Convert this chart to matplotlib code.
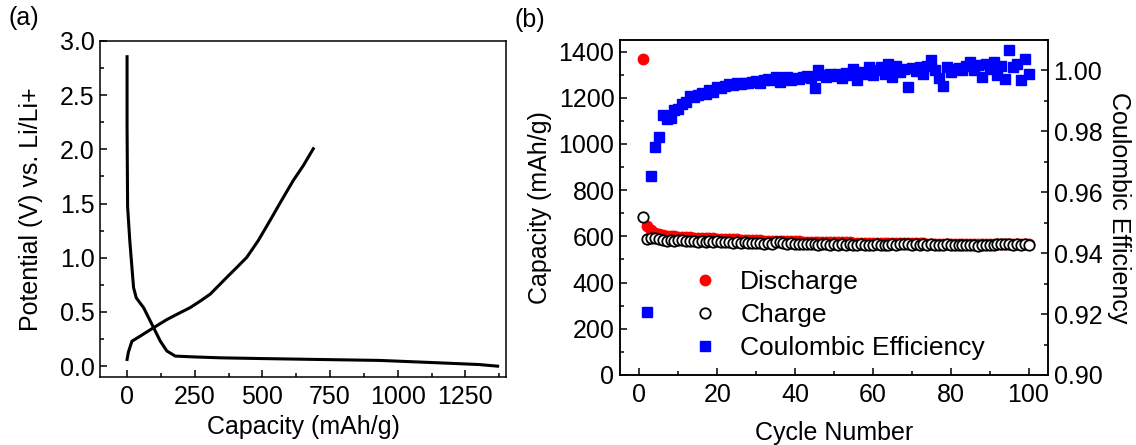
import matplotlib
matplotlib.use("Agg")
import matplotlib.pyplot as plt
from matplotlib.ticker import MultipleLocator
from matplotlib.lines import Line2D

plt.rcParams['font.family'] = ['Liberation Sans', 'DejaVu Sans']

# (a) first discharge / charge profile
dis_cap = [0, 0, 2, 10, 18, 24, 34, 61, 98, 123, 147, 178, 250, 344, 500, 700, 933, 1150, 1300, 1369]
dis_volt = [2.855, 2.21, 1.47, 1.16, 0.91, 0.725, 0.63, 0.54, 0.355, 0.23, 0.14, 0.093, 0.085,
            0.077, 0.07, 0.062, 0.053, 0.031, 0.015, 0.0]
chg_cap = [0, 5, 12, 18, 49, 98, 147, 184, 233, 270, 307, 368, 405, 442, 485, 528, 571, 614, 651, 688]
chg_volt = [0.062, 0.13, 0.185, 0.23, 0.278, 0.355, 0.43, 0.478, 0.54, 0.60, 0.664, 0.818, 0.91,
            1.003, 1.16, 1.343, 1.53, 1.713, 1.85, 2.006]

# (b) cycling
cycles = list(range(1, 101))
discharge = [1367,
             647, 628, 615, 610, 606, 603, 601, 600, 599,
             598, 597, 596, 595, 594, 593, 592, 592, 591, 590,
             589, 589, 588, 587, 587, 586, 585, 585, 584, 583,
             583, 582, 582, 581, 581, 580, 580, 579, 579, 578,
             578, 577, 577, 577, 576, 576, 576, 575, 575, 575,
             574, 574, 574, 574, 573, 573, 573, 573, 572, 572,
             572, 572, 572, 571, 571, 571, 571, 571, 570, 570,
             570, 570, 570, 569, 569, 569, 569, 569, 568, 568,
             568, 568, 568, 568, 567, 567, 567, 567, 567, 566,
             566, 566, 566, 566, 566, 565, 565, 565, 565, 565]
charge = [686,
          590, 594, 592, 590, 586, 580, 584, 582, 585,
          583, 580, 578, 581, 577, 579, 575, 578, 576, 579,
          577, 574, 576, 573, 575, 572, 574, 571, 573, 570,
          572, 569, 571, 566, 574, 575, 570, 568, 571, 567,
          569, 566, 568, 565, 567, 564, 566, 565, 563, 566,
          564, 565, 563, 566, 564, 562, 565, 563, 564, 562,
          565, 563, 564, 562, 566, 564, 567, 568, 566, 564,
          565, 563, 566, 564, 565, 563, 564, 562, 565, 561,
          563, 562, 564, 561, 563, 562, 560, 563, 561, 564,
          562, 566, 568, 565, 567, 562, 565, 563, 566, 561]
ce_cycles = list(range(2, 101))
ce = [0.9207, 0.9655, 0.9750, 0.9780, 0.9855, 0.9840, 0.9845, 0.9870, 0.9872,
      0.9890, 0.9895, 0.9915, 0.9912, 0.9920, 0.9925, 0.9922, 0.9935, 0.9930, 0.9945,
      0.9942, 0.9950, 0.9955, 0.9952, 0.9958, 0.9955, 0.9960, 0.9958, 0.9962, 0.9965,
      0.9960, 0.9968, 0.9972, 0.9970, 0.9978, 0.9962, 0.9975, 0.9980, 0.9968, 0.9975,
      0.9972, 0.9978, 0.9982, 0.9975, 0.9942, 1.0000, 0.9985, 0.9978, 0.9990, 0.9982,
      0.9988, 0.9975, 0.9992, 0.9985, 1.0005, 0.9970, 0.9995, 0.9988, 1.0010, 0.9985,
      1.0000, 1.0012, 0.9990, 1.0020, 0.9980, 1.0015, 0.9995, 1.0005, 0.9945, 1.0008,
      0.9998, 1.0010, 0.9990, 1.0015, 1.0033, 1.0002, 0.9975, 0.9950, 1.0010, 0.9995,
      1.0005, 1.0008, 1.0000, 1.0015, 1.0027, 1.0000, 1.0018, 0.9980, 1.0020, 1.0005,
      1.0027, 0.9985, 1.0015, 0.9972, 1.0066, 1.0010, 1.0020, 0.9970, 1.0038, 0.9989]

FS = 18

fig = plt.figure(figsize=(11.36, 4.45), dpi=100)
ax1 = fig.add_axes([100 / 1136, 68 / 445, 406 / 1136, 336 / 445])
ax2 = fig.add_axes([620 / 1136, 70 / 445, 428 / 1136, 335 / 445])


def style(ax):
    for s in ax.spines.values():
        s.set_linewidth(1.1)
    ax.tick_params(which='both', direction='in', labelsize=FS, width=1.1)
    ax.tick_params(which='major', length=5)
    ax.tick_params(which='minor', length=3)
    ax.tick_params(axis='x', pad=6)
    ax.tick_params(axis='y', pad=4)


# ---- panel (a)
ax1.plot(dis_cap, dis_volt, color='black', lw=2.2, solid_joinstyle='round')
ax1.plot(chg_cap, chg_volt, color='black', lw=2.2, solid_joinstyle='round')
ax1.set_xlim(-100, 1400)
ax1.set_ylim(-0.1, 3.0)
ax1.xaxis.set_major_locator(MultipleLocator(250))
ax1.xaxis.set_minor_locator(MultipleLocator(125))
ax1.yaxis.set_major_locator(MultipleLocator(0.5))
ax1.yaxis.set_minor_locator(MultipleLocator(0.25))
ax1.yaxis.set_major_formatter(plt.FormatStrFormatter('%.1f'))
style(ax1)
ax1.set_xlabel('Capacity (mAh/g)', fontsize=FS, labelpad=4)
ax1.set_ylabel('Potential (V) vs. Li/Li+', fontsize=FS, labelpad=12)

# ---- panel (b)
ax2.plot(cycles, discharge, 'o', color='#ff0000', ms=7.5, mec='#ff0000', ls='none')
ax2.plot(cycles, charge, 'o', mfc='white', mec='black', mew=1.3, ms=7.5, ls='none')
ax2.set_xlim(-5, 105)
ax2.set_ylim(0, 1450)
ax2.xaxis.set_major_locator(MultipleLocator(20))
ax2.xaxis.set_minor_locator(MultipleLocator(10))
ax2.yaxis.set_major_locator(MultipleLocator(200))
ax2.yaxis.set_minor_locator(MultipleLocator(100))
style(ax2)
ax2.set_xlabel('Cycle Number', fontsize=FS, labelpad=10)
ax2.set_ylabel('Capacity (mAh/g)', fontsize=FS, labelpad=5)

ax3 = ax2.twinx()
ax3.plot(ce_cycles, ce, 's', color='#0000ff', ms=7.5, ls='none')
ax3.set_ylim(0.90, 1.01)
ax3.yaxis.set_major_locator(MultipleLocator(0.02))
ax3.yaxis.set_minor_locator(MultipleLocator(0.01))
ax3.yaxis.set_major_formatter(plt.FormatStrFormatter('%.2f'))
style(ax3)
ax3.set_ylabel('Coulombic Efficiency', fontsize=FS, rotation=270, labelpad=21)

handles = [
    Line2D([], [], marker='o', color='#ff0000', ls='none', ms=7.5),
    Line2D([], [], marker='o', mfc='white', mec='black', mew=1.3, ls='none', ms=7.5),
    Line2D([], [], marker='s', color='#0000ff', ls='none', ms=7.5),
]
ax3.legend(handles, ['Discharge', 'Charge', 'Coulombic Efficiency'], frameon=False,
           fontsize=FS + 1, loc='lower left', bbox_to_anchor=(0.105, -0.027),
           handletextpad=0.75, labelspacing=0.35, handlelength=1.2)

fig.text(8 / 1136, 1 - 18 / 445, '(a)', fontsize=FS, va='center', ha='left')
fig.text(515 / 1136, 1 - 20 / 445, '(b)', fontsize=FS, va='center', ha='left')

fig.savefig('out.png', dpi=100)
